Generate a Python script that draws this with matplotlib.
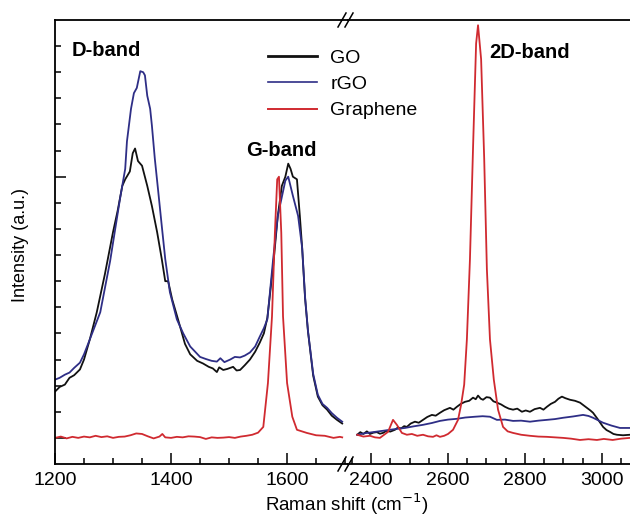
import matplotlib
matplotlib.use("Agg")
import matplotlib.pyplot as plt
from matplotlib.lines import Line2D
import numpy as np

plt.rcParams['font.family'] = ['Liberation Sans', 'DejaVu Sans']

# ---- data (Raman shift in cm^-1, intensity in arbitrary units) ----
go_low_x = [1200, 1208, 1217, 1225, 1233, 1243, 1250, 1260, 1272, 1286, 1300, 1308, 1316, 1321,
            1329, 1334, 1338, 1343, 1350, 1359, 1367, 1376, 1384, 1390, 1395, 1402, 1412, 1424,
            1433, 1445, 1455, 1465, 1472, 1479, 1483, 1490, 1497, 1507, 1513, 1519, 1527, 1536,
            1545, 1553, 1560, 1566, 1576, 1584, 1591, 1597, 1602, 1606, 1610, 1617, 1622, 1626,
            1631, 1636, 1645, 1653, 1661, 1669, 1677, 1686, 1695]
go_low_y = [2.77, 2.95, 3.04, 3.3, 3.4, 3.62, 4.0, 4.77, 5.81, 7.27, 8.88, 9.7, 10.65, 10.9,
            11.2, 11.9, 12.08, 11.6, 11.42, 10.65, 9.88, 8.88, 7.85, 7.0, 7.0, 6.3, 5.54, 4.6,
            4.2, 3.95, 3.85, 3.72, 3.66, 3.52, 3.7, 3.6, 3.64, 3.72, 3.58, 3.6, 3.78, 4.0,
            4.3, 4.65, 5.0, 5.6, 7.58, 9.5, 10.65, 11.0, 11.5, 11.3, 11.0, 10.9, 9.5, 8.27,
            6.35, 5.08, 3.38, 2.58, 2.25, 2.08, 1.85, 1.69, 1.55]

rgo_low_x = [1200, 1208, 1217, 1225, 1233, 1243, 1250, 1260, 1278, 1295, 1312, 1321, 1324, 1331,
             1336, 1341, 1347, 1352, 1355, 1359, 1364, 1367, 1372, 1378, 1384, 1390, 1398, 1410,
             1421, 1433, 1450, 1460, 1470, 1479, 1485, 1492, 1502, 1510, 1519, 1527, 1536, 1545,
             1553, 1560, 1566, 1576, 1584, 1597, 1602, 1610, 1619, 1626, 1631, 1636, 1645, 1653,
             1661, 1669, 1677, 1686, 1695]
rgo_low_y = [3.23, 3.3, 3.42, 3.5, 3.68, 3.88, 4.2, 4.77, 5.81, 7.77, 10.15, 11.3, 12.35, 13.6,
             14.2, 14.4, 15.04, 15.0, 14.88, 14.1, 13.6, 12.96, 11.7, 10.42, 9.12, 7.85, 6.58, 5.54,
             5.0, 4.5, 4.1, 4.02, 3.95, 3.92, 4.05, 3.9, 4.0, 4.1, 4.08, 4.15, 4.27, 4.5,
             4.88, 5.2, 5.54, 7.85, 9.5, 10.85, 11.0, 10.27, 9.5, 8.27, 6.4, 5.1, 3.45, 2.65,
             2.3, 2.15, 1.95, 1.77, 1.62]

gr_low_x = [1200, 1210, 1220, 1230, 1240, 1250, 1260, 1270, 1280, 1290, 1300, 1310, 1320, 1330,
            1340, 1350, 1360, 1370, 1380, 1385, 1390, 1400, 1410, 1420, 1430, 1440, 1450, 1460,
            1470, 1480, 1490, 1500, 1510, 1520, 1530, 1540, 1550, 1559, 1567, 1574, 1579, 1583,
            1586, 1590, 1593, 1600, 1609, 1617, 1634, 1650, 1665, 1680, 1691, 1695]
gr_low_y = [1.0, 1.05, 0.98, 1.04, 1.0, 1.05, 1.02, 1.08, 1.03, 1.06, 1.0, 1.04, 1.05, 1.1,
            1.17, 1.15, 1.06, 0.98, 1.05, 1.15, 1.02, 1.0, 1.04, 1.02, 1.06, 1.05, 1.03, 0.96,
            1.02, 1.0, 1.01, 1.03, 1.0, 1.05, 1.08, 1.12, 1.2, 1.42, 3.1, 5.65, 8.85, 10.9,
            11.0, 8.85, 5.65, 3.1, 1.81, 1.31, 1.19, 1.1, 1.08, 1.0, 1.04, 1.02]

go_high_x = [2364, 2372, 2380, 2389, 2397, 2406, 2415, 2423, 2431, 2440, 2450, 2462, 2470, 2478,
             2486, 2493, 2503, 2514, 2524, 2535, 2546, 2558, 2568, 2579, 2590, 2605, 2614, 2623,
             2633, 2644, 2655, 2665, 2672, 2678, 2685, 2691, 2700, 2709, 2718, 2727, 2738, 2748,
             2758, 2769, 2780, 2792, 2802, 2813, 2825, 2839, 2848, 2857, 2867, 2878, 2887, 2896,
             2905, 2917, 2930, 2943, 2952, 2961, 2970, 2977, 2990, 3003, 3012, 3021, 3030, 3039,
             3055, 3073]
go_high_y = [1.12, 1.22, 1.15, 1.25, 1.15, 1.2, 1.22, 1.16, 1.19, 1.27, 1.24, 1.31, 1.4, 1.36,
             1.45, 1.42, 1.55, 1.62, 1.58, 1.69, 1.8, 1.88, 1.85, 1.96, 2.06, 2.15, 2.08, 2.19,
             2.3, 2.38, 2.42, 2.54, 2.48, 2.62, 2.5, 2.46, 2.56, 2.54, 2.4, 2.35, 2.28, 2.19,
             2.12, 2.08, 2.12, 2.0, 2.05, 2.0, 2.1, 2.15, 2.08, 2.19, 2.3, 2.38, 2.5, 2.58,
             2.52, 2.46, 2.42, 2.35, 2.25, 2.15, 2.05, 1.96, 1.7, 1.42, 1.3, 1.23, 1.15, 1.12,
             1.1, 1.12]

rgo_high_x = [2364, 2385, 2410, 2430, 2449, 2470, 2488, 2510, 2535, 2558, 2579, 2600, 2623, 2645,
              2670, 2690, 2709, 2727, 2748, 2769, 2790, 2813, 2835, 2857, 2878, 2899, 2925, 2951,
              2965, 2977, 3003, 3025, 3047, 3073]
rgo_high_y = [1.12, 1.18, 1.23, 1.27, 1.31, 1.35, 1.38, 1.44, 1.5, 1.57, 1.65, 1.7, 1.73, 1.78,
              1.81, 1.83, 1.81, 1.69, 1.7, 1.65, 1.66, 1.62, 1.66, 1.69, 1.72, 1.77, 1.82, 1.88,
              1.84, 1.77, 1.58, 1.47, 1.38, 1.38]

gr_high_x = [2364, 2380, 2397, 2410, 2423, 2444, 2457, 2467, 2480, 2493, 2506, 2520, 2535, 2548,
             2561, 2570, 2579, 2590, 2600, 2613, 2626, 2634, 2642, 2649, 2657, 2665, 2673, 2678,
             2686, 2694, 2701, 2709, 2719, 2730, 2743, 2755, 2769, 2790, 2813, 2835, 2857, 2878,
             2899, 2920, 2943, 2965, 2987, 3005, 3028, 3050, 3073]
gr_high_y = [1.12, 1.05, 1.08, 1.02, 1.0, 1.23, 1.69, 1.5, 1.19, 1.12, 1.15, 1.08, 1.12, 1.06,
             1.04, 1.1, 1.04, 1.08, 1.15, 1.31, 1.69, 2.27, 3.04, 4.77, 7.85, 12.1, 16.1, 16.8,
             15.5, 11.7, 7.46, 4.77, 3.23, 2.08, 1.42, 1.25, 1.19, 1.12, 1.08, 1.05, 1.04, 1.02,
             1.0, 0.97, 0.92, 0.95, 0.92, 0.96, 0.92, 0.97, 1.0]

labels = ["GO", "rGO", "Graphene"]
colors = ["#111111", "#2e2e86", "#d02a30"]
band_labels = ["D-band", "G-band", "2D-band"]

# ---- figure ----
W, H = 630, 519
fig = plt.figure(figsize=(W / 100, H / 100), dpi=100)

def fx(px):
    return px / W

def fy(py):
    return 1 - py / H

x0, xb, x1 = 55, 348, 630
ytop, ybot = 20, 464
axL = fig.add_axes([fx(x0), fy(ybot), fx(xb - x0), (ybot - ytop) / H])
axR = fig.add_axes([fx(xb), fy(ybot), fx(x1 - xb), (ybot - ytop) / H])

lw = 1.3
axL.plot(go_low_x, go_low_y, color=colors[0], lw=lw)
axL.plot(rgo_low_x, rgo_low_y, color=colors[1], lw=lw)
axL.plot(gr_low_x, gr_low_y, color=colors[2], lw=lw)
axR.plot(go_high_x, go_high_y, color=colors[0], lw=lw)
axR.plot(rgo_high_x, rgo_high_y, color=colors[1], lw=lw)
axR.plot(gr_high_x, gr_high_y, color=colors[2], lw=lw)

axL.set_xlim(1200, 1705)
axR.set_xlim(2340, 3073)
for ax in (axL, axR):
    ax.set_ylim(0, 17)
    ax.spines['right'].set_visible(False)
    for s in ax.spines.values():
        s.set_linewidth(1.3)
axR.spines['left'].set_visible(False)

axL.set_xticks([1200, 1400, 1600])
axL.set_xticks(np.arange(1250, 1701, 50), minor=True)
axR.set_xticks([2400, 2600, 2800, 3000])
axR.set_xticks(np.arange(2350, 3051, 50), minor=True)
axL.set_yticks([1, 11])
axL.set_yticks(np.arange(1, 17, 1), minor=True)
axL.set_yticklabels([])
axR.set_yticks([])
axR.set_yticks([], minor=True)

for ax in (axL, axR):
    ax.tick_params(axis='both', which='major', direction='in', length=8, width=1.1,
                   labelsize=14, top=False, right=False, pad=6)
    ax.tick_params(axis='both', which='minor', direction='in', length=4, width=1.1,
                   top=False, right=False)
axR.tick_params(axis='y', left=False, which='both')

# break marks
for yy in (ytop, ybot):
    for dx in (0, 7):
        fig.add_artist(Line2D([fx(338 + dx), fx(346 + dx)], [fy(yy + 7), fy(yy - 7)],
                              color='black', lw=1.1, transform=fig.transFigure))

# axis labels
fig.text(fx(347), fy(504), "Raman shift (cm$^{-1}$)", ha='center', va='center', fontsize=13.5)
fig.text(fx(21), fy(245), "Intensity (a.u.)", ha='center', va='center', fontsize=13, rotation=90)

# band labels
fig.text(fx(72), fy(51), band_labels[0], ha='left', va='center', fontsize=14.5, fontweight='bold')
fig.text(fx(246), fy(151), band_labels[1], ha='left', va='center', fontsize=14.5, fontweight='bold')
fig.text(fx(489), fy(53), band_labels[2], ha='left', va='center', fontsize=14.5, fontweight='bold')

# legend
handles = [Line2D([], [], color=colors[0], lw=2.0),
           Line2D([], [], color=colors[1], lw=1.2),
           Line2D([], [], color=colors[2], lw=1.4)]
fig.legend(handles, labels, loc='upper left', bbox_to_anchor=(fx(268), fy(49)),
           frameon=False, fontsize=14, handlelength=2.5, handletextpad=0.7,
           labelspacing=0.45, borderpad=0, borderaxespad=0)

fig.savefig("out.png", dpi=100)
